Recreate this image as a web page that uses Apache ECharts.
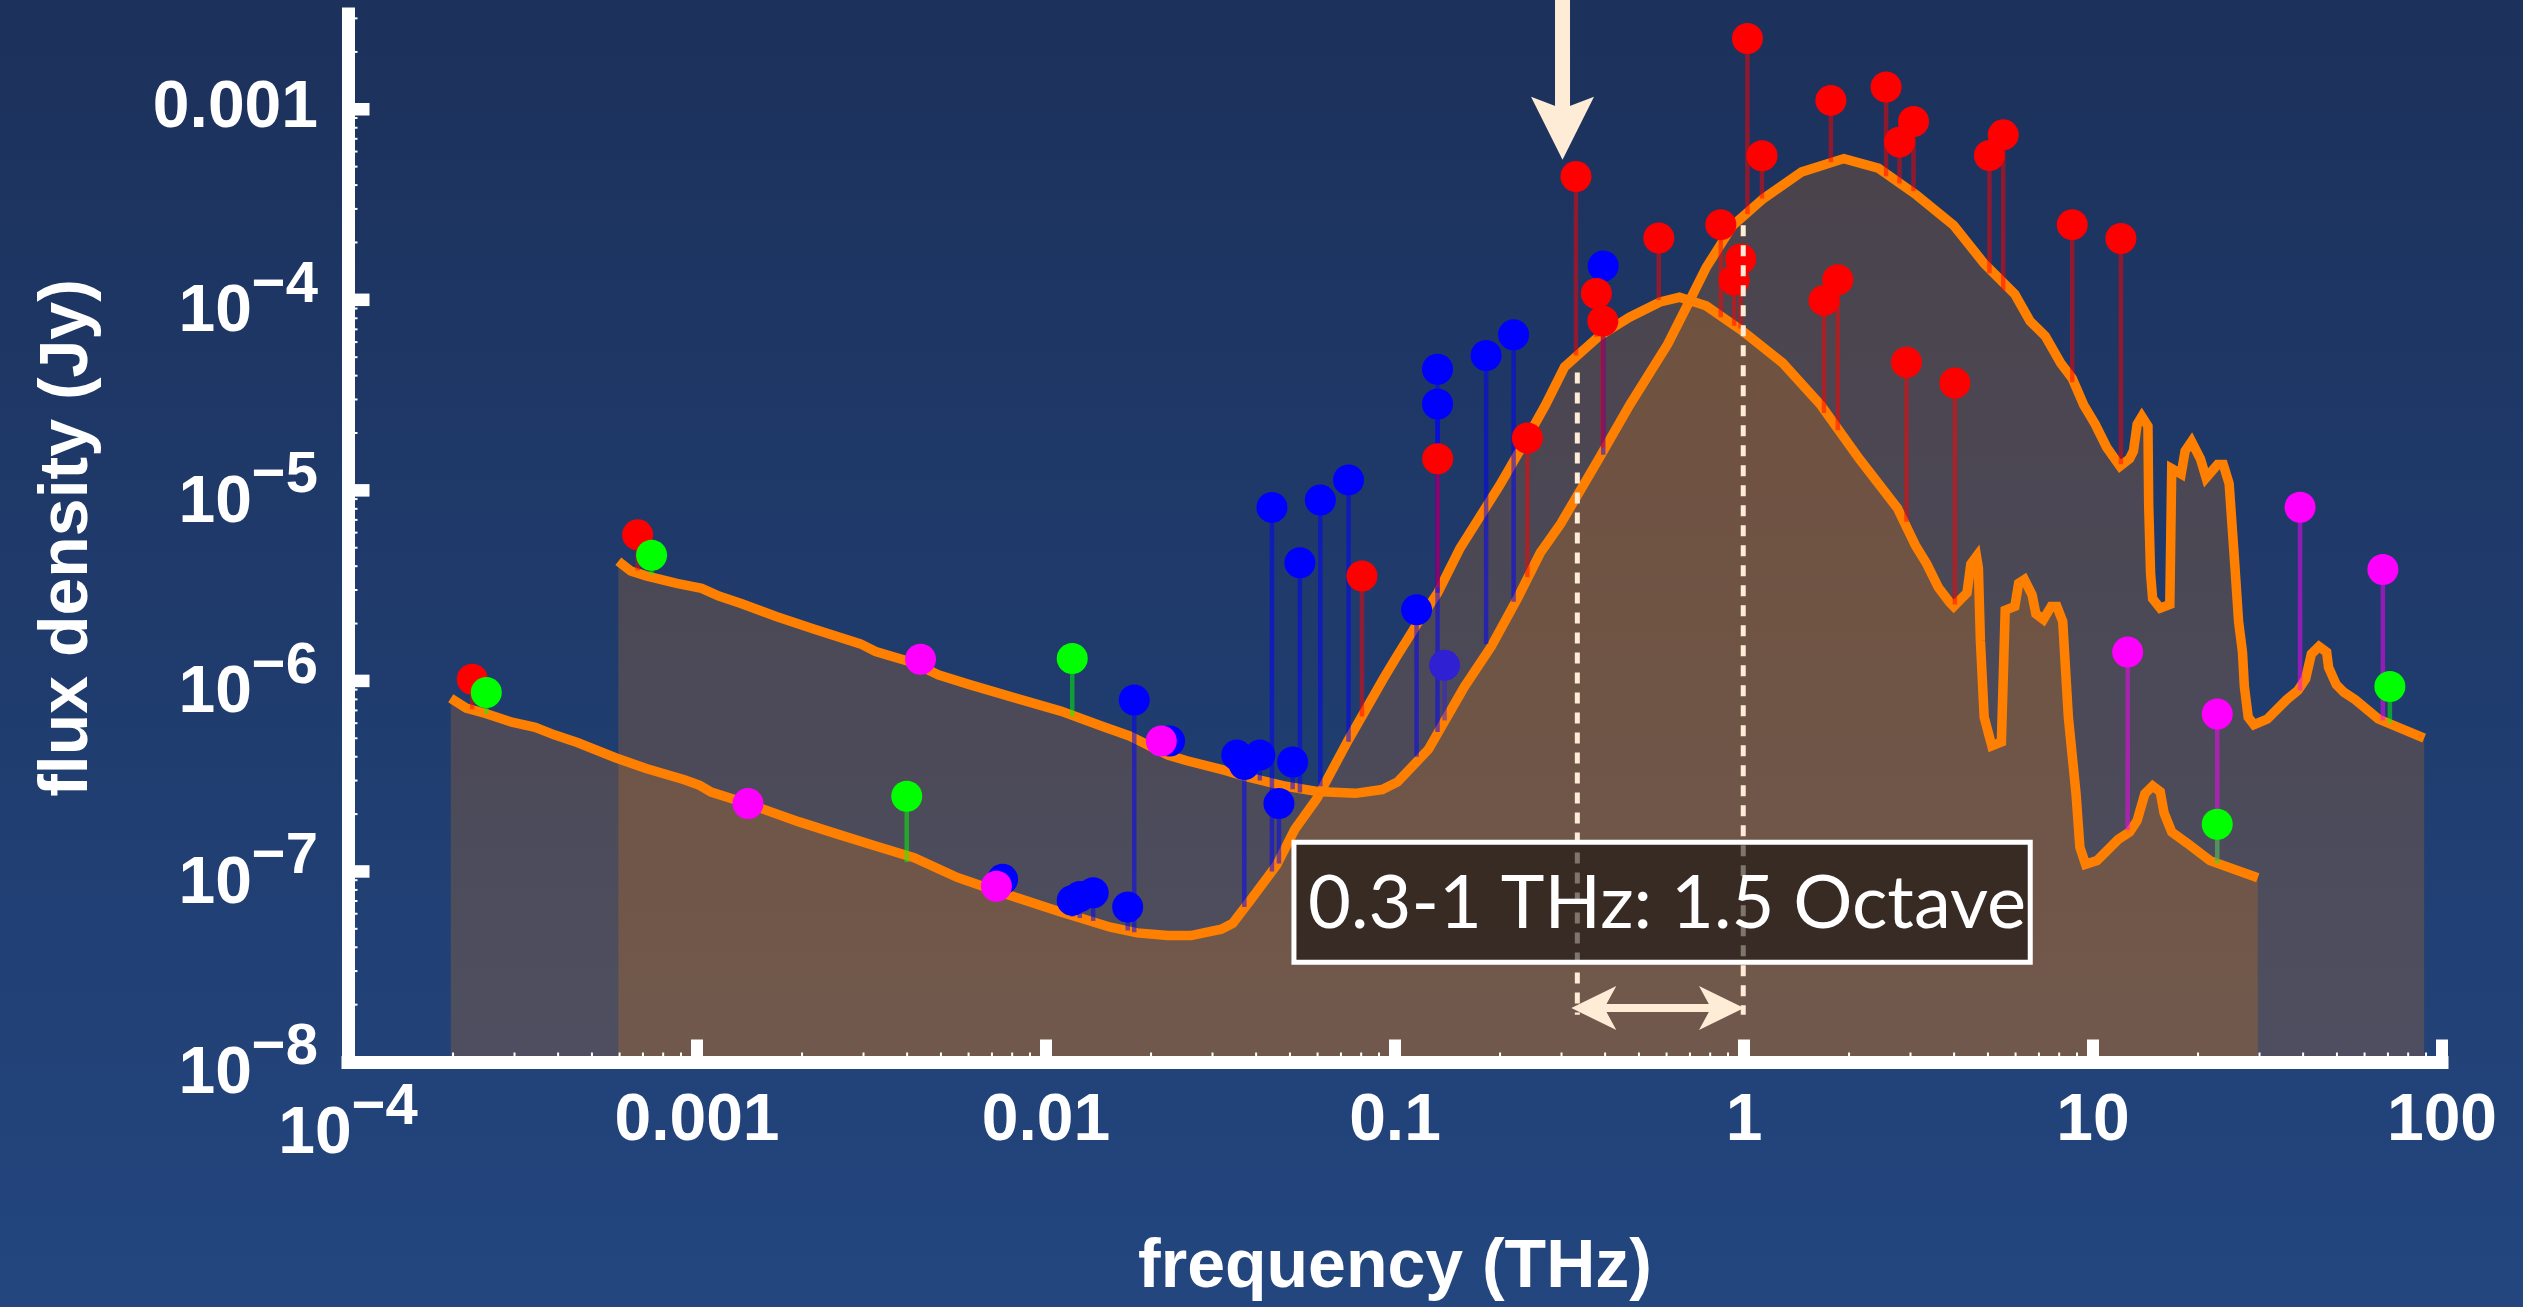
<!DOCTYPE html>
<html>
<head>
<meta charset="utf-8">
<script src="https://cdn.jsdelivr.net/npm/echarts@6/dist/echarts.min.js"></script>
<style>
html,body{margin:0;padding:0;background:#1f3c6e;overflow:hidden;}
#chart{width:2523px;height:1307px;}
</style>
</head>
<body>
<div id="chart"></div>
<script>
// ---------------- data (frequency in THz, flux density in Jy) ----------------
const curveAFreq = [1.97e-4, 2.18e-4, 2.48e-4, 2.95e-4, 3.44e-4, 3.90e-4, 4.54e-4, 5.84e-4, 7.15e-4, 9.20e-4, 1.018e-3, 1.098e-3, 1.378e-3, 1.963e-3, 2.527e-3, 3.25e-3, 4.19e-3, 5.57e-3, 7.18e-3, 1.102e-2, 1.53e-2, 1.825e-2, 2.235e-2, 2.60e-2, 3.18e-2, 3.43e-2, 3.84e-2, 4.58e-2, 5.16e-2, 5.98e-2, 7.34e-2, 8.26e-2, 9.30e-2, 0.1015, 0.1176, 0.1324, 0.1534, 0.1993, 0.2378, 0.2697, 0.306, 0.384, 0.470, 0.575, 0.653, 0.779, 1.003, 1.291, 1.661, 2.138, 2.754, 3.096, 3.341, 3.603, 3.886, 3.988, 4.355, 4.466, 4.637, 4.695, 4.757, 4.878, 5.129, 5.464, 5.603, 5.970, 6.122, 6.36, 6.69, 6.86, 7.21, 7.59, 7.88, 8.19, 8.50, 8.94, 9.17, 9.52, 10.27, 11.80, 12.73, 13.38, 14.08, 14.82, 15.58, 15.98, 16.81, 18.59, 21.63, 29.66];
const curveAFlux = [8.11e-7, 7.20e-7, 6.75e-7, 6.07e-7, 5.71e-7, 5.21e-7, 4.75e-7, 3.95e-7, 3.47e-7, 3.03e-7, 2.83e-7, 2.61e-7, 2.29e-7, 1.82e-7, 1.57e-7, 1.36e-7, 1.18e-7, 9.30e-8, 7.91e-8, 6.13e-8, 5.10e-8, 4.76e-8, 4.61e-8, 4.61e-8, 4.98e-8, 5.35e-8, 7.00e-8, 1.08e-7, 1.66e-7, 2.42e-7, 4.88e-7, 7.12e-7, 1.04e-6, 1.357e-6, 2.09e-6, 2.89e-6, 4.95e-6, 1.06e-5, 1.85e-5, 2.80e-5, 4.44e-5, 6.44e-5, 8.11e-5, 9.75e-5, 1.031e-4, 9.31e-5, 6.74e-5, 4.66e-5, 2.80e-5, 1.466e-5, 8.05e-6, 5.16e-6, 4.10e-6, 3.10e-6, 2.58e-6, 2.46e-6, 2.90e-6, 4.10e-6, 4.50e-6, 3.91e-6, 1.627e-6, 6.45e-7, 4.56e-7, 4.78e-7, 2.35e-6, 2.46e-6, 3.25e-6, 3.40e-6, 2.83e-6, 2.25e-6, 2.10e-6, 2.46e-6, 2.46e-6, 2.05e-6, 6.45e-7, 2.56e-7, 1.341e-7, 1.09e-7, 1.14e-7, 1.47e-7, 1.61e-7, 1.85e-7, 2.56e-7, 2.81e-7, 2.62e-7, 2.03e-7, 1.61e-7, 1.41e-7, 1.14e-7, 9.27e-8];

const curveBFreq = [5.95e-4, 6.46e-4, 7.15e-4, 8.75e-4, 1.031e-3, 1.155e-3, 1.344e-3, 1.686e-3, 2.17e-3, 2.94e-3, 3.25e-3, 4.19e-3, 4.91e-3, 6.01e-3, 8.14e-3, 1.102e-2, 1.455e-2, 1.736e-2, 2.235e-2, 2.535e-2, 3.26e-2, 3.70e-2, 4.77e-2, 5.98e-2, 7.70e-2, 9.19e-2, 0.1017, 0.1248, 0.158, 0.1886, 0.225, 0.2606, 0.2985, 0.384, 0.470, 0.605, 0.687, 0.779, 0.929, 1.137, 1.464, 1.933, 2.425, 3.12, 3.988, 4.878, 5.970, 6.60, 7.30, 8.08, 8.72, 9.41, 10.15, 10.94, 11.95, 12.73, 13.06, 13.38, 13.80, 14.37, 14.44, 14.62, 14.82, 15.58, 16.60, 16.81, 17.89, 18.36, 19.16, 20.31, 21.09, 22.75, 23.62, 24.55, 25.48, 26.13, 26.81, 27.15, 27.84, 28.92, 31.58, 35.84, 38.67, 40.66, 42.24, 44.42, 46.72, 47.32, 49.77, 52.36, 56.47, 65.7, 88.9];
const curveBFlux = [4.24e-6, 3.77e-6, 3.56e-6, 3.25e-6, 3.06e-6, 2.79e-6, 2.54e-6, 2.18e-6, 1.865e-6, 1.565e-6, 1.426e-6, 1.241e-6, 1.076e-6, 9.59e-7, 8.15e-7, 6.94e-7, 5.77e-7, 5.14e-7, 4.08e-7, 3.81e-7, 3.39e-7, 3.16e-7, 2.82e-7, 2.63e-7, 2.57e-7, 2.69e-7, 2.95e-7, 4.38e-7, 9.31e-7, 1.513e-6, 2.74e-6, 4.69e-6, 6.69e-6, 1.466e-5, 2.80e-5, 5.87e-5, 9.31e-5, 1.477e-4, 2.46e-4, 3.40e-4, 4.69e-4, 5.51e-4, 4.91e-4, 3.55e-4, 2.46e-4, 1.548e-4, 1.070e-4, 7.74e-5, 6.44e-5, 4.66e-5, 3.87e-5, 2.80e-5, 2.22e-5, 1.684e-5, 1.338e-5, 1.466e-5, 1.609e-5, 2.22e-5, 2.44e-5, 2.17e-5, 8.42e-6, 3.67e-6, 2.70e-6, 2.41e-6, 2.52e-6, 1.301e-5, 1.219e-5, 1.609e-5, 1.804e-5, 1.466e-5, 1.164e-5, 1.368e-5, 1.368e-5, 1.086e-5, 4.10e-6, 2.05e-6, 1.416e-6, 9.35e-7, 6.45e-7, 5.89e-7, 6.31e-7, 7.95e-7, 8.92e-7, 1.025e-6, 1.384e-6, 1.517e-6, 1.416e-6, 1.177e-6, 9.56e-7, 8.71e-7, 7.95e-7, 6.31e-7, 5.01e-7];

// measured points: frequency, flux, and model value at the foot of each stem
const redFreq  = [2.27e-4, 6.76e-4, 8.04e-2, 0.1325, 0.2395, 0.330, 0.3775, 0.394, 0.570, 0.858, 0.937, 0.978, 1.023, 1.126, 1.695, 1.774, 1.857, 2.553, 2.79, 2.92, 3.06, 4.02, 5.05, 5.53, 8.72, 12.02];
const redFlux  = [1.02e-6, 5.84e-6, 3.55e-6, 1.465e-5, 1.883e-5, 4.44e-4, 1.079e-4, 7.74e-5, 2.11e-4, 2.48e-4, 1.269e-4, 1.637e-4, 2.35e-3, 5.70e-4, 9.93e-5, 1.113e-3, 1.275e-4, 1.309e-3, 6.73e-4, 4.70e-5, 8.63e-4, 3.66e-5, 5.72e-4, 7.34e-4, 2.48e-4, 2.10e-4];
const redModel = [7.1e-7, 3.8e-6, 6.5e-7, 3.1e-6, 3.5e-6, 5.1e-5, 6.4e-5, 1.68e-5, 9.97e-5, 8.1e-5, 7.3e-5, 7.06e-5, 2.82e-4, 3.40e-4, 2.55e-5, 5.27e-4, 2.07e-5, 4.45e-4, 4.08e-4, 6.84e-6, 3.72e-4, 2.52e-6, 1.38e-4, 1.12e-4, 3.69e-5, 1.37e-5];

const blueFreq  = [7.51e-3, 1.189e-2, 1.25e-2, 1.365e-2, 1.714e-2, 1.79e-2, 2.26e-2, 3.52e-2, 3.70e-2, 4.10e-2, 4.44e-2, 4.65e-2, 5.09e-2, 5.34e-2, 6.11e-2, 7.36e-2, 0.1153, 0.1324, 0.1324, 0.1824, 0.2187, 0.395];
const blueFlux  = [9.09e-8, 7.05e-8, 7.38e-8, 7.73e-8, 6.51e-8, 7.94e-7, 4.84e-7, 4.08e-7, 3.64e-7, 4.08e-7, 8.14e-6, 2.27e-7, 3.75e-7, 4.17e-6, 8.89e-6, 1.135e-5, 2.36e-6, 4.32e-5, 2.84e-5, 5.10e-5, 6.55e-5, 1.506e-4];
const blueModel = [7.9e-8, 5.8e-8, 5.7e-8, 5.5e-8, 4.9e-8, 4.8e-8, 4.05e-7, 3.3e-7, 6.5e-8, 3.0e-7, 1.0e-7, 1.1e-7, 2.7e-7, 2.6e-7, 2.8e-7, 4.8e-7, 4.0e-7, 2.9e-6, 5.4e-7, 1.56e-6, 2.6e-6, 1.54e-5];

const violetFreq  = [0.1387];
const violetFlux  = [1.207e-6];
const violetModel = [6.2e-7];

const magentaFreq  = [1.40e-3, 4.37e-3, 7.21e-3, 2.14e-2, 12.57, 22.7, 39.2, 67.7];
const magentaFlux  = [2.27e-7, 1.30e-6, 8.36e-8, 4.84e-7, 1.416e-6, 6.70e-7, 8.15e-6, 3.84e-6];
const magentaModel = [2.2e-7, 1.22e-6, 8.0e-8, 4.1e-7, 1.65e-7, 1.14e-7, 8.9e-7, 6.2e-7];

const greenFreq  = [2.49e-4, 7.41e-4, 3.99e-3, 1.189e-2, 22.7, 70.9];
const greenFlux  = [8.7e-7, 4.57e-6, 2.48e-7, 1.31e-6, 1.77e-7, 9.35e-7];
const greenModel = [6.7e-7, 3.6e-6, 1.12e-7, 6.5e-7, 1.1e-7, 6.0e-7];

// axis ticks
const xMajorTicks = [0.001, 0.01, 0.1, 1, 10, 100];
const yMajorTicks = [1e-7, 1e-6, 1e-5, 1e-4, 1e-3];
const xDecades = [1e-4, 1e-3, 1e-2, 0.1, 1, 10];
const yDecades = [1e-8, 1e-7, 1e-6, 1e-5, 1e-4, 1e-3];
const minorMultipliers = [2, 3, 4, 5, 6, 7, 8, 9];

// annotations
const arrowFreq = 0.302, arrowTipFlux = 5.43e-4;
const bandFreqs = [0.333, 0.995], bandTopFlux = [4.15e-5, 2.46e-4], bandBottomFlux = 1.77e-8;
const spanArrowFreqs = [0.32, 1.0], spanArrowFlux = 1.92e-8;
const labelBoxFreq = [0.0505, 6.72], labelBoxFlux = [1.466e-7, 3.24e-8];
const labelText = '0.3-1 THz: 1.5 Octave';

// ---------------- chart ----------------
const X_MIN = 1e-4, X_MAX = 100, Y_MIN = 1e-8, Y_MAX = 3.1623e-3;
const FONT = "'Liberation Sans', Arial, Helvetica, sans-serif";
const cream = '#ffecd6';
const zip = (a, b) => a.map((x, i) => [x, b[i]]);
const zip3 = (a, b, c) => a.map((x, i) => [x, b[i], c[i]]);

const xMinorTicks = [];
xDecades.forEach(d => minorMultipliers.forEach(m => xMinorTicks.push(d * m)));
const yMinorTicks = [];
yDecades.forEach(d => minorMultipliers.forEach(m => { if (d * m < Y_MAX) yMinorTicks.push(d * m); }));

function expOf(v) { return Math.round(Math.log10(v)); }
function isDecade(v) { const e = Math.log10(v); return Math.abs(e - Math.round(e)) < 1e-6; }
function fmtX(v) {
  const e = expOf(v);
  if (e === -4) return '{b|10}{s|\u2212' + (-e) + '}';
  const map = {'-3': '0.001', '-2': '0.01', '-1': '0.1', '0': '1', '1': '10', '2': '100'};
  return '{n|' + map[String(e)] + '}';
}
function fmtY(v) {
  if (!isDecade(v)) return '';
  const e = expOf(v);
  if (e === -3) return '{n|0.001}';
  return '{b|10}{s|\u2212' + (-e) + '}';
}
const richLabel = {
  n: {fontSize: 66, lineHeight: 66, fontWeight: 'bold', color: '#fff', fontFamily: FONT},
  b: {fontSize: 66, lineHeight: 66, fontWeight: 'bold', color: '#fff', fontFamily: FONT, padding: [26, 0, 0, 0]},
  s: {fontSize: 58, lineHeight: 58, fontWeight: 'bold', color: '#fff', fontFamily: FONT, padding: [3, 0, 31, 0]}
};

function stemSeries(name, f, v, m, color) {
  return {
    type: 'custom', name, coordinateSystem: 'cartesian2d', z: 3, silent: true,
    dimensions: ['f', 'v', 'm'], encode: {x: 0, y: 1},
    data: zip3(f, v, m),
    renderItem: (params, api) => {
      const a = api.coord([api.value(0), api.value(1)]);
      const b = api.coord([api.value(0), api.value(2)]);
      return {type: 'line', shape: {x1: a[0], y1: a[1], x2: b[0], y2: b[1]},
              style: {stroke: color, lineWidth: 4.5, opacity: 0.5}};
    }
  };
}
function dotSeries(name, f, v, color, z) {
  return {type: 'scatter', name, data: zip(f, v), symbol: 'circle', symbolSize: 31,
          itemStyle: {color, opacity: 1}, z, silent: true, clip: false};
}

const chart = echarts.init(document.getElementById('chart'), null, {width: 2523, height: 1307});

const option = {
  animation: false,
  backgroundColor: {type: 'linear', x: 0, y: 0, x2: 0, y2: 1,
    colorStops: [{offset: 0, color: '#1c315b'}, {offset: 1, color: '#23467f'}]},
  grid: {left: 348, right: 81, top: 14, bottom: 244, containLabel: false},
  xAxis: {
    type: 'log', logBase: 10, min: X_MIN, max: X_MAX, splitNumber: 6, z: 9,
    axisLine: {show: true, onZero: false, lineStyle: {color: '#fff', width: 13, cap: 'square'}},
    axisTick: {show: false}, minorTick: {show: false}, splitLine: {show: false},
    axisLabel: {show: true, margin: 27, formatter: fmtX, rich: richLabel, showMinLabel: true, showMaxLabel: true},
    name: 'frequency (THz)', nameLocation: 'middle', nameGap: 172,
    nameTextStyle: {color: '#fff', fontSize: 68, fontWeight: 'bold', fontFamily: FONT}
  },
  yAxis: {
    type: 'log', logBase: 10, min: Y_MIN, max: Y_MAX, splitNumber: 6, z: 9,
    axisLine: {show: true, onZero: false, lineStyle: {color: '#fff', width: 13, cap: 'square'}},
    axisTick: {show: false}, minorTick: {show: false}, splitLine: {show: false},
    axisLabel: {show: true, margin: 30, formatter: fmtY, rich: richLabel, showMinLabel: true, showMaxLabel: false},
    name: 'flux density (Jy)', nameLocation: 'middle', nameRotate: 90, nameGap: 246,
    nameTextStyle: {color: '#fff', fontSize: 68, fontWeight: 'bold', fontFamily: FONT}
  },
  series: [
    {type: 'line', name: 'fillA', data: zip(curveAFreq, curveAFlux), symbol: 'none', showSymbol: false, z: 1, silent: true,
     lineStyle: {width: 0, opacity: 0}, areaStyle: {color: '#ff8000', opacity: 0.2, origin: 'start'}},
    {type: 'line', name: 'fillB', data: zip(curveBFreq, curveBFlux), symbol: 'none', showSymbol: false, z: 1, silent: true,
     lineStyle: {width: 0, opacity: 0}, areaStyle: {color: '#ff8000', opacity: 0.2, origin: 'start'}},
    {type: 'line', name: 'modelA', data: zip(curveAFreq, curveAFlux), symbol: 'none', showSymbol: false, z: 2, silent: true,
     lineStyle: {color: '#ff8000', width: 9.5, join: 'miter', miterLimit: 3}},
    {type: 'line', name: 'modelB', data: zip(curveBFreq, curveBFlux), symbol: 'none', showSymbol: false, z: 2, silent: true,
     lineStyle: {color: '#ff8000', width: 9.5, join: 'miter', miterLimit: 3}},
    stemSeries('blueStems', blueFreq, blueFlux, blueModel, '#0000ff'),
    stemSeries('violetStems', violetFreq, violetFlux, violetModel, '#3a20d8'),
    stemSeries('redStems', redFreq, redFlux, redModel, '#ff0000'),
    stemSeries('magentaStems', magentaFreq, magentaFlux, magentaModel, '#ff00ff'),
    stemSeries('greenStems', greenFreq, greenFlux, greenModel, '#00ff00'),
    dotSeries('blue', blueFreq, blueFlux, '#0000ff', 5),
    dotSeries('violet', violetFreq, violetFlux, '#3020d4', 5),
    dotSeries('red', redFreq, redFlux, '#ff0000', 6),
    dotSeries('magenta', magentaFreq, magentaFlux, '#ff00ff', 7),
    dotSeries('green', greenFreq, greenFlux, '#00ff00', 7),
    {
      type: 'custom', name: 'annotations', coordinateSystem: 'cartesian2d', z: 8, silent: true, clip: false,
      data: [[1, 1e-5]],
      renderItem: (params, api) => {
        const ch = [];
        bandFreqs.forEach((f, i) => {
          const t = api.coord([f, bandTopFlux[i]]), b = api.coord([f, bandBottomFlux]);
          ch.push({type: 'line', shape: {x1: t[0], y1: t[1], x2: b[0], y2: b[1]},
                   style: {stroke: cream, lineWidth: 5, lineDash: [11, 9]}});
        });
        const p1 = api.coord([labelBoxFreq[0], labelBoxFlux[0]]);
        const p2 = api.coord([labelBoxFreq[1], labelBoxFlux[1]]);
        ch.push({type: 'rect', shape: {x: p1[0] + 2.5, y: p1[1] + 2.5, width: p2[0] - p1[0] - 5, height: p2[1] - p1[1] - 5},
                 style: {fill: 'rgba(0,0,0,0.5)', stroke: '#fff', lineWidth: 5}});
        ch.push({type: 'text', x: (p1[0] + p2[0]) / 2 + 5, y: (p1[1] + p2[1]) / 2 + 2,
                 style: {text: labelText, fill: '#fff', fontSize: 74, fontFamily: 'Lato, "Open Sans", sans-serif',
                         align: 'center', verticalAlign: 'middle'}});
        const tip = api.coord([arrowFreq, arrowTipFlux]);
        ch.push({type: 'rect', shape: {x: tip[0] - 7.5, y: -5, width: 15, height: tip[1] - 48 + 5}, style: {fill: cream}});
        ch.push({type: 'polygon', shape: {points: [[tip[0], tip[1]], [tip[0] - 31.5, tip[1] - 63], [tip[0], tip[1] - 51], [tip[0] + 31.5, tip[1] - 63]]},
                 style: {fill: cream}});
        const L = api.coord([spanArrowFreqs[0], spanArrowFlux]);
        const R = api.coord([spanArrowFreqs[1], spanArrowFlux]);
        ch.push({type: 'rect', shape: {x: L[0] + 28, y: L[1] - 4, width: R[0] - L[0] - 56, height: 8}, style: {fill: cream}});
        ch.push({type: 'polygon', shape: {points: [[L[0], L[1]], [L[0] + 45, L[1] - 22], [L[0] + 33, L[1]], [L[0] + 45, L[1] + 22]]}, style: {fill: cream}});
        ch.push({type: 'polygon', shape: {points: [[R[0], R[1]], [R[0] - 45, R[1] - 22], [R[0] - 33, R[1]], [R[0] - 45, R[1] + 22]]}, style: {fill: cream}});
        return {type: 'group', children: ch};
      }
    },
    {
      type: 'custom', name: 'ticks', coordinateSystem: 'cartesian2d', z: 10, silent: true, clip: false,
      data: [[1, 1e-5]],
      renderItem: (params, api) => {
        const ch = [];
        xMajorTicks.forEach(v => { const p = api.coord([v, Y_MIN]);
          ch.push({type: 'rect', shape: {x: p[0] - 6, y: p[1] - 22.5, width: 12, height: 22.5}, style: {fill: '#fff'}}); });
        xMinorTicks.forEach(v => { const p = api.coord([v, Y_MIN]);
          ch.push({type: 'rect', shape: {x: p[0] - 1, y: p[1] - 9.5, width: 2, height: 9.5}, style: {fill: '#fff'}}); });
        yMajorTicks.forEach(v => { const p = api.coord([X_MIN, v]);
          ch.push({type: 'rect', shape: {x: p[0], y: p[1] - 6.25, width: 21.5, height: 12.5}, style: {fill: '#fff'}}); });
        yMinorTicks.forEach(v => { const p = api.coord([X_MIN, v]);
          ch.push({type: 'rect', shape: {x: p[0], y: p[1] - 1, width: 9.5, height: 2}, style: {fill: '#fff'}}); });
        return {type: 'group', children: ch};
      }
    }
  ]
};
chart.setOption(option);
</script>
</body>
</html>
